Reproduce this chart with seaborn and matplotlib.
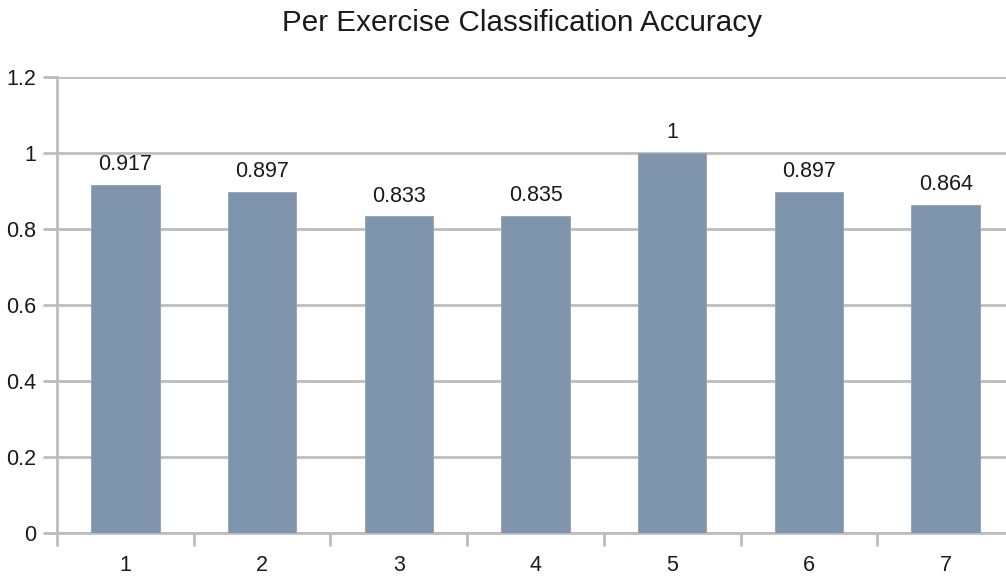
import matplotlib
matplotlib.use("Agg")
import matplotlib.pyplot as plt
import seaborn as sns
import pandas as pd
from matplotlib.ticker import FixedLocator

exercises = ["1", "2", "3", "4", "5", "6", "7"]
accuracy = [0.917, 0.897, 0.833, 0.835, 1.0, 0.897, 0.864]
value_labels = ["0.917", "0.897", "0.833", "0.835", "1", "0.897", "0.864"]
y_ticks = [0, 0.2, 0.4, 0.6, 0.8, 1.0, 1.2]
y_tick_labels = ["0", "0.2", "0.4", "0.6", "0.8", "1", "1.2"]
title = "Per Exercise Classification Accuracy"

sns.set_theme(style="white")
plt.rcParams["font.family"] = ["Liberation Sans", "DejaVu Sans"]

df = pd.DataFrame({"exercise": exercises, "accuracy": accuracy})

W, H = 1006, 578
fig = plt.figure(figsize=(W / 100, H / 100), dpi=100)
ax = fig.add_axes([57 / W, 45 / H, 957 / W, 456 / H])

grid_c = "#bdbdbd"
bar_c = "#7f95ad"

sns.barplot(data=df, x="exercise", y="accuracy", color=bar_c, width=0.5,
            saturation=1, ax=ax, zorder=3, edgecolor="#8fa3b8", linewidth=0.6)

ax.set_xlim(-0.5, 6.5)
ax.set_ylim(0, 1.2)
ax.set_yticks(y_ticks)
ax.set_yticklabels(y_tick_labels)
ax.yaxis.grid(True, color=grid_c, linewidth=2.0, zorder=0)
ax.xaxis.grid(False)
ax.set_axisbelow(True)

for s in ["top", "right"]:
    ax.spines[s].set_visible(False)
for s in ["left", "bottom"]:
    ax.spines[s].set_color(grid_c)
    ax.spines[s].set_linewidth(2.0)

ax.tick_params(axis="y", which="major", length=10, width=2.0, color=grid_c,
               labelsize=15.5, labelcolor="#1a1a1a", pad=5, left=True)
ax.tick_params(axis="x", which="major", length=0, labelsize=15.5,
               labelcolor="#1a1a1a", pad=16)
ax.xaxis.set_minor_locator(FixedLocator([i - 0.5 for i in range(len(exercises) + 1)]))
ax.tick_params(axis="x", which="minor", length=9, width=2.0, color=grid_c, bottom=True)

ax.set_xlabel("")
ax.set_ylabel("")

for i, (v, lab) in enumerate(zip(accuracy, value_labels)):
    ax.annotate(lab, (i, v), xytext=(0, 7), textcoords="offset points",
                ha="center", va="bottom", fontsize=15.5, color="#1a1a1a")

fig.text(522 / W, 1 - 23 / H, title, ha="center", va="center",
         fontsize=21.3, color="#1a1a1a")

fig.savefig("out.png", dpi=100)
